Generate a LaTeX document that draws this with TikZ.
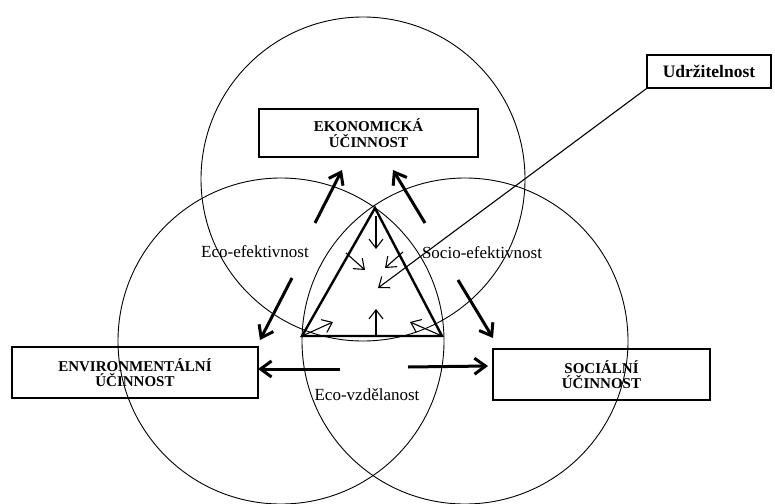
\documentclass[tikz,border=0pt]{standalone}
\usepackage{fontspec}
\setmainfont{Liberation Serif}
\usetikzlibrary{arrows.meta}
\tikzset{
  circ/.style={draw, line width=0.9pt},
  box/.style={draw, line width=1.4pt, align=center, inner sep=0pt, font=\fontsize{15}{15.5}\selectfont\bfseries},
  lbl/.style={inner sep=0pt, font=\fontsize{17}{18}\selectfont},
  bigarrow/.style={line width=3pt, -{Straight Barb[length=11pt,width=16pt,line width=3pt]}},
  smallarrow/.style={line width=1.1pt, -{Straight Barb[length=9pt,width=14pt,line width=1.1pt]}},
  tri/.style={draw, line width=2.4pt, line join=miter}
}
\begin{document}
\begin{tikzpicture}[x=1pt,y=-1pt]
\useasboundingbox (0,0) rectangle (775,503);
\clip (0,0) rectangle (775,503);
% circles
\draw[circ] (363,179) circle[radius=162pt];
\draw[circ] (281,341) circle[radius=163pt];
\draw[circ] (465,341) circle[radius=163pt];
% boxes
\node[box, minimum width=219pt, minimum height=48pt] (eko) at (368.5,133) {EKONOMICKÁ\\ÚČINNOST};
\node[box, minimum width=246pt, minimum height=51pt] (env) at (135,372.5) {ENVIRONMENTÁLNÍ\\ÚČINNOST};
\node[box, minimum width=217pt, minimum height=51pt] (soc) at (601.5,374.5) {SOCIÁLNÍ\\ÚČINNOST};
\node[box, minimum width=124pt, minimum height=33pt, font=\fontsize{17.5}{18}\selectfont\bfseries] (udr) at (709,71.5) {Udržitelnost};
% labels
\node[lbl] (ecoef) at (255,252) {Eco-efektivnost};
\node[lbl] (socef) at (482,253) {Socio-efektivnost};
\node[lbl] (ecovz) at (367,395) {Eco-vzdělanost};
% triangle
\coordinate (A) at (375,208);
\coordinate (B) at (302,336);
\coordinate (C) at (442,336);
\draw[tri] (A) -- (B) -- (C) -- cycle;
% thick arrows
\coordinate (t1) at (315,223); \coordinate (h1) at (342,170);
\coordinate (t2) at (425,223); \coordinate (h2) at (393,170);
\coordinate (t3) at (292,278); \coordinate (h3) at (260,340);
\coordinate (t4) at (458,280); \coordinate (h4) at (493,338);
\coordinate (t5) at (340,369); \coordinate (h5) at (258,369);
\coordinate (t6) at (408,367); \coordinate (h6) at (488,366);
\draw[bigarrow] (t1) -- (h1);
\draw[bigarrow] (t2) -- (h2);
\draw[bigarrow] (t3) -- (h3);
\draw[bigarrow] (t4) -- (h4);
\draw[bigarrow] (t5) -- (h5);
\draw[bigarrow] (t6) -- (h6);
% thin inner arrows
\coordinate (s1) at (376,216); \coordinate (e1) at (376,249);
\coordinate (s2) at (346,253); \coordinate (e2) at (365,270);
\coordinate (s3) at (403,252); \coordinate (e3) at (385,268);
\coordinate (s4) at (376,336); \coordinate (e4) at (376,309);
\coordinate (e5) at (333,322);
\coordinate (e6) at (410,322);
\coordinate (e7) at (378,288);
\draw[smallarrow] (s1) -- (e1);
\draw[smallarrow] (s2) -- (e2);
\draw[smallarrow] (s3) -- (e3);
\draw[smallarrow] (s4) -- (e4);
\draw[smallarrow] (B) -- (e5);
\draw[smallarrow] (C) -- (e6);
\draw[smallarrow] (udr.south west) -- (e7);
\end{tikzpicture}
\end{document}
